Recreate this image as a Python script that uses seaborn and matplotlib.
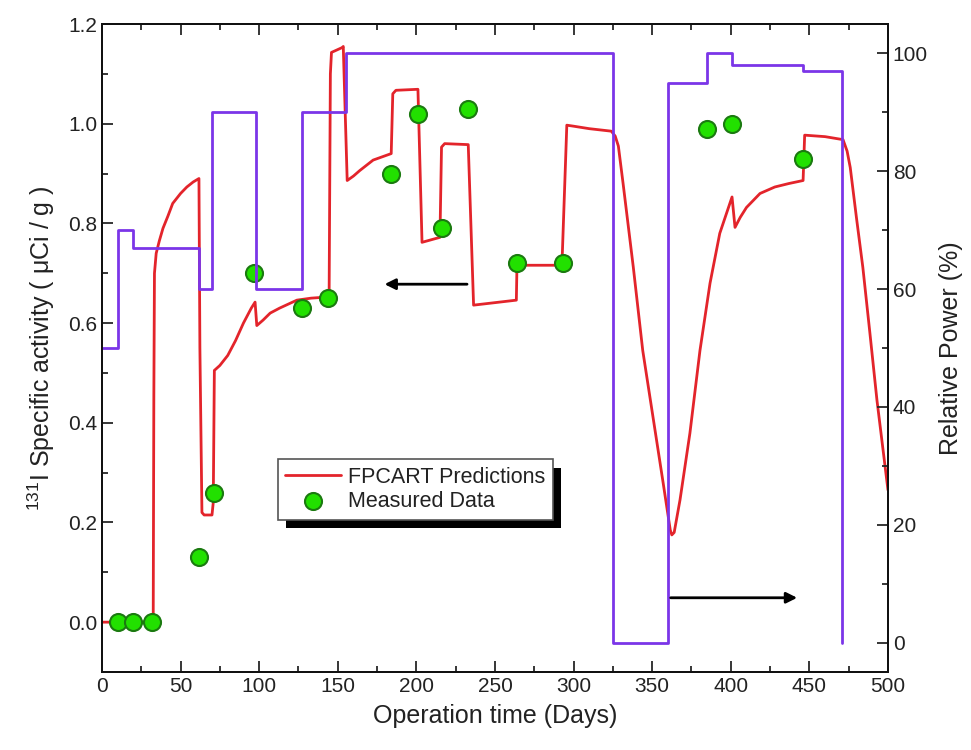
import numpy as np
import pandas as pd
import seaborn as sns
import matplotlib.pyplot as plt
from matplotlib import patheffects
from matplotlib.ticker import MultipleLocator

# Reactor power history (right axis, step line)
power_days = [0, 10, 20, 62, 70, 98, 127, 155, 325, 360, 385, 401, 446, 471]
power_pct = [50, 70, 67, 60, 90, 60, 90, 100, 0, 95, 100, 98, 97, 0]

# FPCART predicted I-131 specific activity (left axis)
pred_days = [0, 32.6, 33.0, 33.4, 34.5, 36.5, 38.8, 42, 45, 50, 54, 58, 61.7, 62.3, 63.6, 65, 70,
             70.8, 71.5, 75, 80, 85, 90, 95, 97.4, 98.5, 102.5, 107, 113, 124, 133, 142,
             144.5, 145.3, 146, 153, 153.5, 156, 160, 164, 172.5, 184, 185, 187, 201,
             203.6, 215, 216, 218, 233, 236.4, 263.6, 264, 292.6, 295.7, 300, 310, 324,
             326.5, 328.5, 331.5, 338, 344, 350.6, 357, 361.5, 362.5, 364, 367.7, 374, 380.4, 386.8,
             393, 400.8, 402.7, 406, 410, 418.6, 428, 437, 446, 447, 460, 471.4, 474, 476, 480, 484,
             488.5, 493, 500]
pred_act = [0, 0, 0.45, 0.70, 0.74, 0.765, 0.79, 0.815, 0.84, 0.86, 0.873, 0.883, 0.89, 0.55, 0.22, 0.215, 0.215,
            0.24, 0.505, 0.515, 0.535, 0.565, 0.60, 0.63, 0.642, 0.595, 0.606, 0.62, 0.63, 0.646, 0.65, 0.652,
            0.655, 1.10, 1.143, 1.153, 1.155, 0.886, 0.895, 0.906, 0.927, 0.94, 1.06, 1.067, 1.069,
            0.762, 0.772, 0.953, 0.96, 0.958, 0.636, 0.646, 0.716, 0.716, 0.997, 0.995, 0.99, 0.985,
            0.975, 0.955, 0.88, 0.712, 0.545, 0.41, 0.279, 0.185, 0.175, 0.18, 0.245, 0.379, 0.545, 0.68,
            0.78, 0.853, 0.792, 0.812, 0.832, 0.86, 0.873, 0.88, 0.886, 0.977, 0.974, 0.968, 0.945, 0.912, 0.81, 0.712,
            0.58, 0.445, 0.265]

# Measured data
meas_days = [10, 20, 32, 62, 71, 97, 127, 144, 184, 201, 216, 233, 264, 293, 385, 401, 446]
meas_act = [0.0, 0.0, 0.0, 0.13, 0.26, 0.70, 0.63, 0.65, 0.90, 1.02, 0.79, 1.03, 0.72, 0.72, 0.99, 1.0, 0.93]

pred = pd.DataFrame({'day': pred_days, 'act': pred_act})
meas = pd.DataFrame({'day': meas_days, 'act': meas_act})
power = pd.DataFrame({'day': power_days, 'pct': power_pct})

sns.set_style('ticks')
plt.rcParams['font.family'] = ['Liberation Sans', 'DejaVu Sans']
plt.rcParams['mathtext.default'] = 'regular'
plt.rcParams['xtick.direction'] = 'in'
plt.rcParams['ytick.direction'] = 'in'

txt = '#222222'
fig = plt.figure(figsize=(9.71, 7.5), dpi=100)
ax = fig.add_axes([0.105, 0.104, 0.8095, 0.864])
ax2 = ax.twinx()

sns.lineplot(data=pred, x='day', y='act', ax=ax, color='#e3242b', lw=2,
             estimator=None, sort=False, label='FPCART Predictions', legend=False)
sns.scatterplot(data=meas, x='day', y='act', ax=ax, color='#22e000', s=150,
                edgecolor='#1b7a10', linewidth=1.5, zorder=5, label='Measured Data', legend=False)
sns.lineplot(data=power, x='day', y='pct', ax=ax2, color='#7b35e8', lw=2,
             estimator=None, sort=False, drawstyle='steps-post', legend=False)

ax.annotate('', xy=(178, 0.678), xytext=(234, 0.678),
            arrowprops=dict(arrowstyle='-|>', color='k', lw=2, mutation_scale=16))
ax2.annotate('', xy=(444, 7.6), xytext=(360, 7.6),
             arrowprops=dict(arrowstyle='-|>', color='k', lw=2, mutation_scale=16))

ax.set_xlim(0, 500)
ax.set_ylim(-0.1, 1.2)
ax2.set_ylim(-5, 105)
ax.xaxis.set_major_locator(MultipleLocator(50))
ax.xaxis.set_minor_locator(MultipleLocator(25))
ax.yaxis.set_major_locator(MultipleLocator(0.2))
ax.yaxis.set_minor_locator(MultipleLocator(0.1))
ax2.yaxis.set_major_locator(MultipleLocator(20))
ax2.yaxis.set_minor_locator(MultipleLocator(10))
ax.yaxis.set_major_formatter(plt.FormatStrFormatter('%.1f'))

ax.tick_params(which='both', top=True, right=False, direction='in', labelsize=15,
               labelcolor=txt, width=1.3)
ax.tick_params(which='major', length=8)
ax.tick_params(which='minor', length=4)
ax2.tick_params(which='both', direction='in', labelsize=15, labelcolor=txt, width=1.3)
ax2.tick_params(which='major', length=8)
ax2.tick_params(which='minor', length=4)
for a in (ax, ax2):
    for s in a.spines.values():
        s.set_linewidth(1.4)
        s.set_color('#111111')

ax.set_xlabel('Operation time (Days)', fontsize=18, color=txt, labelpad=6)
ax.set_ylabel('$^{131}$I Specific activity ( μCi / g )', fontsize=18, color=txt, labelpad=8)
ax2.set_ylabel('Relative Power (%)', fontsize=18, color=txt, labelpad=8)

h, l = ax.get_legend_handles_labels()
leg = ax2.legend(h, l, loc='upper left', bbox_to_anchor=(0.21, 0.345), fontsize=15.5,
                 fancybox=False, framealpha=1, edgecolor='#555555', borderpad=0.35,
                 handlelength=2.6, handletextpad=0.3, labelspacing=0.15)
leg.get_frame().set_linewidth(1.2)
leg.get_frame().set_path_effects([patheffects.withSimplePatchShadow(offset=(6, -6), shadow_rgbFace='k', alpha=1)])
for t in leg.get_texts():
    t.set_color(txt)

fig.savefig('out.png', dpi=100)
